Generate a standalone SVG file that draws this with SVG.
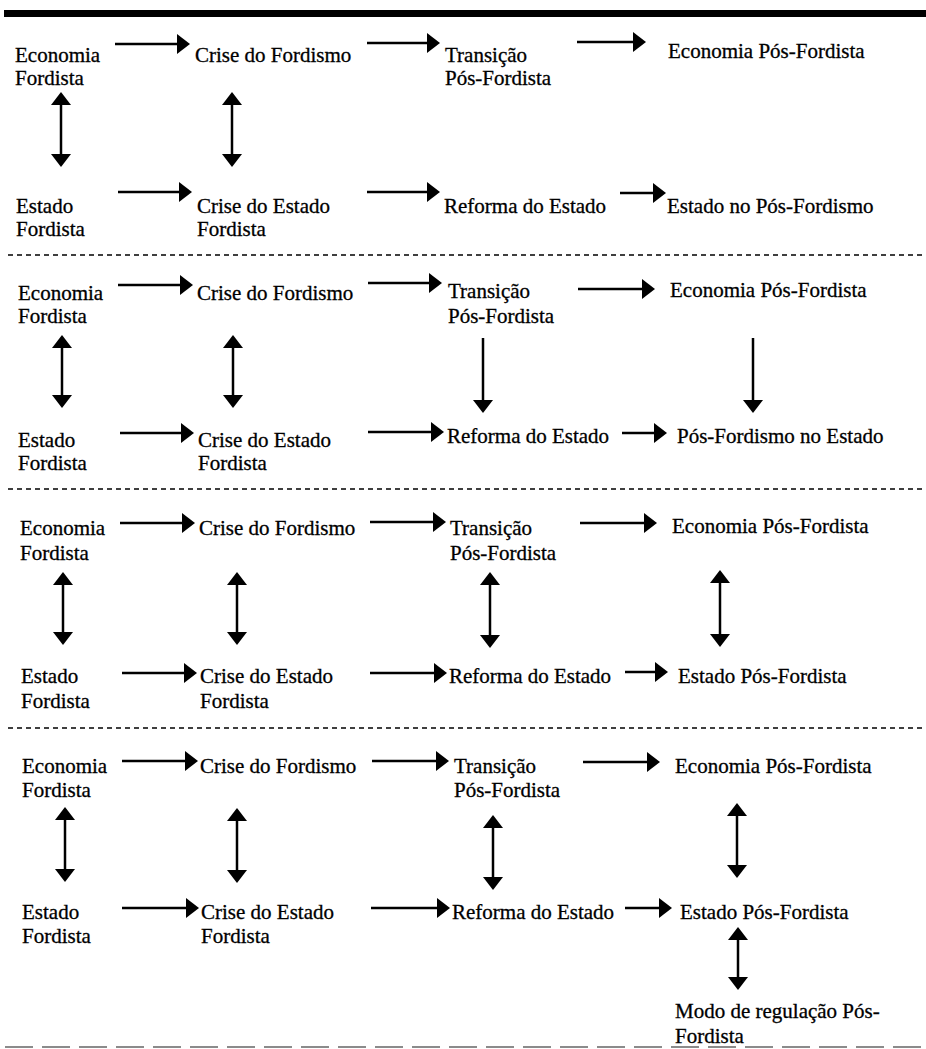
<svg xmlns="http://www.w3.org/2000/svg" width="926" height="1049" viewBox="0 0 926 1049" font-family="'Liberation Serif', Tinos, 'Times New Roman', 'DejaVu Serif', serif" font-size="21">
<style>
text{font-family:"Liberation Serif",Tinos,"Times New Roman","DejaVu Serif",serif;font-size:21px;fill:#000;stroke:#000;stroke-width:0.3}
.c line{stroke:#000;stroke-width:2.5;fill:none}
.one{marker-end:url(#ah)}
.two{marker-start:url(#ah);marker-end:url(#ah)}
.sep{stroke:#000;stroke-width:1.6;stroke-dasharray:5 4}
</style>
<defs>
<marker id="ah" markerUnits="userSpaceOnUse" markerWidth="14" markerHeight="21" refX="5" refY="10" orient="auto-start-reverse" viewBox="0 0 14 21">
<path d="M0,0 L13,10 L0,20 z" fill="#000"/>
</marker>
</defs>
<rect x="4" y="10" width="922" height="7" fill="#000"/>
<g id="separators">
<line class="sep" x1="8" y1="255" x2="926" y2="255"/>
<line class="sep" x1="8" y1="489" x2="926" y2="489"/>
<line class="sep" x1="8" y1="728" x2="926" y2="728"/>
<line x1="5" y1="1047" x2="926" y2="1047" stroke="#666" stroke-width="1.6" stroke-dasharray="28 9"/>
</g>

<!-- Section 1 -->
<g id="s1-economia-fordista"><text x="15" y="62">Economia</text><text x="15" y="85">Fordista</text></g>
<g id="s1-crise-fordismo"><text x="195" y="62">Crise do Fordismo</text></g>
<g id="s1-transicao"><text x="445" y="62">Transição</text><text x="445" y="85">Pós-Fordista</text></g>
<g id="s1-economia-pos"><text x="668" y="58">Economia Pós-Fordista</text></g>
<g id="s1-estado-fordista"><text x="16" y="213">Estado</text><text x="16" y="236">Fordista</text></g>
<g id="s1-crise-estado"><text x="197" y="213">Crise do Estado</text><text x="197" y="236">Fordista</text></g>
<g id="s1-reforma"><text x="444" y="213">Reforma do Estado</text></g>
<g id="s1-estado-no-pos"><text x="667" y="213">Estado no Pós-Fordismo</text></g>

<!-- Section 2 -->
<g id="s2-economia-fordista"><text x="18" y="300">Economia</text><text x="18" y="323">Fordista</text></g>
<g id="s2-crise-fordismo"><text x="197" y="300">Crise do Fordismo</text></g>
<g id="s2-transicao"><text x="448" y="298">Transição</text><text x="448" y="323">Pós-Fordista</text></g>
<g id="s2-economia-pos"><text x="670" y="297">Economia Pós-Fordista</text></g>
<g id="s2-estado-fordista"><text x="18" y="447">Estado</text><text x="18" y="470">Fordista</text></g>
<g id="s2-crise-estado"><text x="198" y="447">Crise do Estado</text><text x="198" y="470">Fordista</text></g>
<g id="s2-reforma"><text x="447" y="443">Reforma do Estado</text></g>
<g id="s2-pos-no-estado"><text x="677" y="443">Pós-Fordismo no Estado</text></g>

<!-- Section 3 -->
<g id="s3-economia-fordista"><text x="20" y="535">Economia</text><text x="20" y="560">Fordista</text></g>
<g id="s3-crise-fordismo"><text x="199" y="535">Crise do Fordismo</text></g>
<g id="s3-transicao"><text x="450" y="535">Transição</text><text x="450" y="560">Pós-Fordista</text></g>
<g id="s3-economia-pos"><text x="672" y="533">Economia Pós-Fordista</text></g>
<g id="s3-estado-fordista"><text x="21" y="683">Estado</text><text x="21" y="708">Fordista</text></g>
<g id="s3-crise-estado"><text x="200" y="683">Crise do Estado</text><text x="200" y="708">Fordista</text></g>
<g id="s3-reforma"><text x="449" y="683">Reforma do Estado</text></g>
<g id="s3-estado-pos"><text x="678" y="683">Estado Pós-Fordista</text></g>

<!-- Section 4 -->
<g id="s4-economia-fordista"><text x="22" y="773">Economia</text><text x="22" y="797">Fordista</text></g>
<g id="s4-crise-fordismo"><text x="200" y="773">Crise do Fordismo</text></g>
<g id="s4-transicao"><text x="454" y="773">Transição</text><text x="454" y="797">Pós-Fordista</text></g>
<g id="s4-economia-pos"><text x="675" y="773">Economia Pós-Fordista</text></g>
<g id="s4-estado-fordista"><text x="22" y="919">Estado</text><text x="22" y="943">Fordista</text></g>
<g id="s4-crise-estado"><text x="201" y="919">Crise do Estado</text><text x="201" y="943">Fordista</text></g>
<g id="s4-reforma"><text x="452" y="919">Reforma do Estado</text></g>
<g id="s4-estado-pos"><text x="680" y="919">Estado Pós-Fordista</text></g>
<g id="s4-modo-regulacao"><text x="675" y="1018">Modo de regulação Pós-</text><text x="675" y="1043">Fordista</text></g>

<g id="connectors" class="c">
<!-- S1 -->
<line class="one" x1="115" y1="44" x2="182" y2="44"/>
<line class="one" x1="367" y1="43" x2="432" y2="43"/>
<line class="one" x1="577" y1="42" x2="638" y2="42"/>
<line class="two" x1="61" y1="100" x2="61" y2="159"/>
<line class="two" x1="232" y1="100" x2="232" y2="159"/>
<line class="one" x1="118" y1="192" x2="184" y2="192"/>
<line class="one" x1="367" y1="192" x2="432" y2="192"/>
<line class="one" x1="620" y1="193" x2="658" y2="193"/>
<!-- S2 -->
<line class="one" x1="118" y1="285" x2="185" y2="285"/>
<line class="one" x1="368" y1="283" x2="434" y2="283"/>
<line class="one" x1="578" y1="289" x2="647" y2="289"/>
<line class="two" x1="62" y1="343" x2="62" y2="400"/>
<line class="two" x1="233" y1="343" x2="233" y2="400"/>
<line class="one" x1="483" y1="338" x2="483" y2="405"/>
<line class="one" x1="753" y1="338" x2="753" y2="405"/>
<line class="one" x1="120" y1="433" x2="186" y2="433"/>
<line class="one" x1="368" y1="432" x2="436" y2="432"/>
<line class="one" x1="622" y1="433" x2="659" y2="433"/>
<!-- S3 -->
<line class="one" x1="120" y1="523" x2="187" y2="523"/>
<line class="one" x1="370" y1="522" x2="438" y2="522"/>
<line class="one" x1="580" y1="523" x2="649" y2="523"/>
<line class="two" x1="63" y1="580" x2="63" y2="637"/>
<line class="two" x1="237" y1="580" x2="237" y2="637"/>
<line class="two" x1="490" y1="580" x2="490" y2="640"/>
<line class="two" x1="720" y1="578" x2="720" y2="639"/>
<line class="one" x1="122" y1="673" x2="189" y2="673"/>
<line class="one" x1="370" y1="673" x2="439" y2="673"/>
<line class="one" x1="625" y1="672" x2="660" y2="672"/>
<!-- S4 -->
<line class="one" x1="122" y1="761" x2="190" y2="761"/>
<line class="one" x1="372" y1="761" x2="441" y2="761"/>
<line class="one" x1="583" y1="762" x2="652" y2="762"/>
<line class="two" x1="65" y1="815" x2="65" y2="874"/>
<line class="two" x1="237" y1="816" x2="237" y2="875"/>
<line class="two" x1="493" y1="823" x2="493" y2="882"/>
<line class="two" x1="737" y1="811" x2="737" y2="870"/>
<line class="one" x1="122" y1="908" x2="191" y2="908"/>
<line class="one" x1="371" y1="908" x2="442" y2="908"/>
<line class="one" x1="625" y1="908" x2="664" y2="908"/>
<line class="two" x1="738" y1="935" x2="738" y2="982"/>
</g>
</svg>
